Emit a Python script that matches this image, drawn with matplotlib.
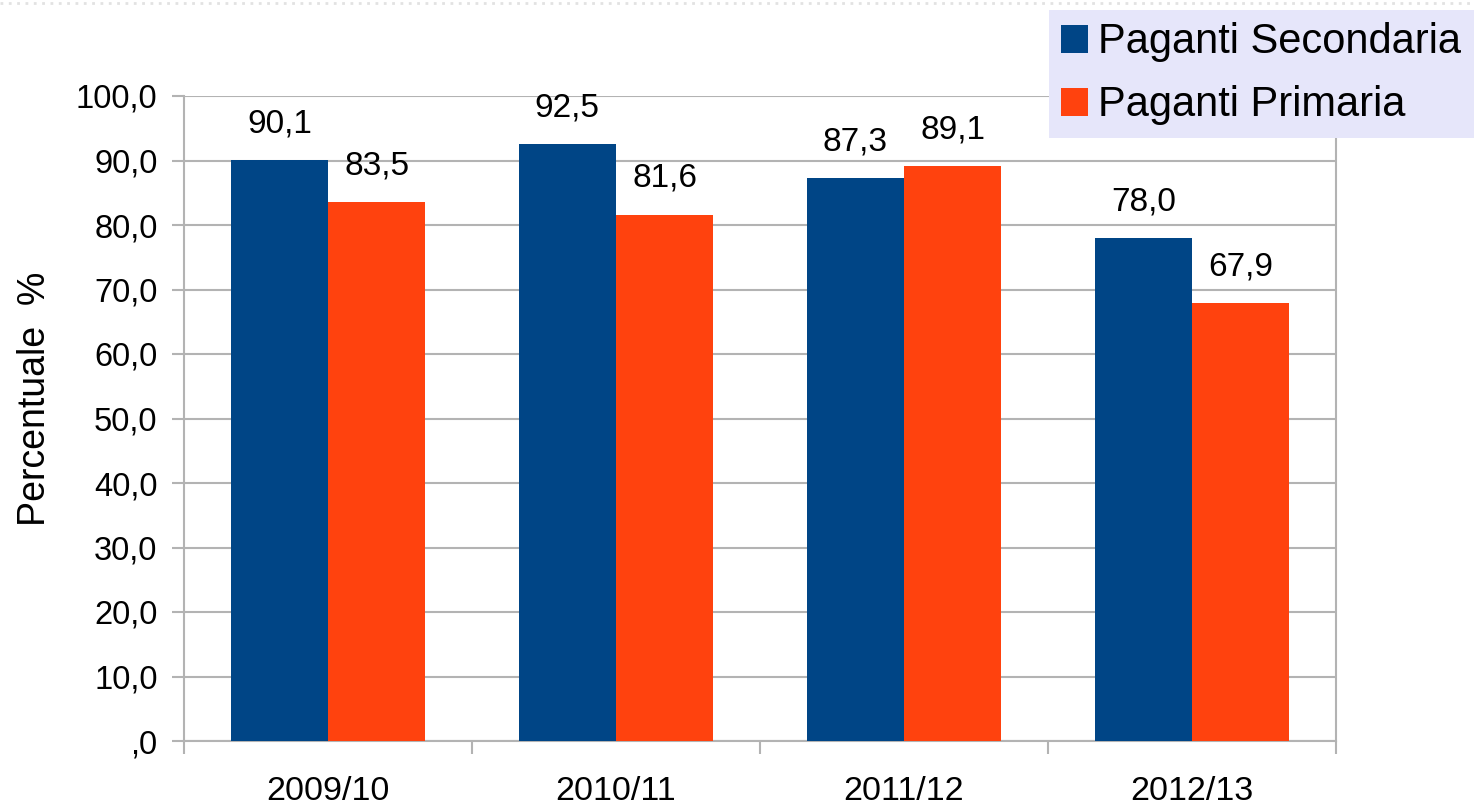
import matplotlib.pyplot as plt
from matplotlib.lines import Line2D
import numpy as np

plt.rcParams['font.family'] = ['Liberation Sans', 'DejaVu Sans']

# Data
years = ['2009/10', '2010/11', '2011/12', '2012/13']
secondaria = [90.1, 92.5, 87.3, 78.0]
primaria = [83.5, 81.6, 89.1, 67.9]
yticks = [0, 10, 20, 30, 40, 50, 60, 70, 80, 90, 100]
ytick_labels = [',0', '10,0', '20,0', '30,0', '40,0', '50,0', '60,0',
                '70,0', '80,0', '90,0', '100,0']

BLUE = '#004586'
ORANGE = '#ff420e'
GRID = '#b3b3b3'
BAR_W = 0.338

fig = plt.figure(figsize=(14.74, 8.06), dpi=100)
fig.patch.set_facecolor('white')
ax = fig.add_axes([184 / 1474, 65 / 806, 1152 / 1474, 645 / 806])

x = np.arange(len(years))
b1 = ax.bar(x - BAR_W / 2, secondaria, BAR_W, color=BLUE, label='Paganti Secondaria', zorder=3)
b2 = ax.bar(x + BAR_W / 2, primaria, BAR_W, color=ORANGE, label='Paganti Primaria', zorder=3)

def fmt(v):
    return f'{v:.1f}'.replace('.', ',')

for bars, vals in ((b1, secondaria), (b2, primaria)):
    for rect, v in zip(bars, vals):
        ax.annotate(fmt(v), (rect.get_x() + rect.get_width() / 2, rect.get_height()),
                    xytext=(0, 15), textcoords='offset points', ha='center', va='bottom',
                    fontsize=24, color='black')

ax.set_xlim(-0.5, len(years) - 0.5)
ax.set_ylim(0, 100)
ax.set_yticks(yticks)
ax.set_yticklabels(ytick_labels)
ax.yaxis.grid(True, color=GRID, linewidth=1.5, zorder=0)

# x ticks between categories, labels centered on categories
ax.set_xticks(np.arange(-0.5, len(years), 1.0))
ax.set_xticklabels([])
ax.set_xticks(x, minor=True)
ax.set_xticklabels(years, minor=True)
ax.tick_params(axis='x', which='major', length=9, width=1.5, color=GRID, direction='out')
ax.tick_params(axis='x', which='minor', length=0, pad=25, labelsize=24.5)
ax.tick_params(axis='y', length=9, width=1.5, color=GRID, labelsize=23.5, pad=10)

for side in ('left', 'bottom', 'right'):
    ax.spines[side].set_color(GRID)
    ax.spines[side].set_linewidth(1.5)
ax.spines['top'].set_visible(False)

ax.set_ylabel('Percentuale  %', fontsize=27)
ax.yaxis.set_label_coords(-0.114, 0.53)

leg = fig.legend(handles=[b1, b2], loc='upper right', bbox_to_anchor=(1.0, 1 - 10 / 806),
                 fontsize=30, frameon=True, fancybox=False, handlelength=0.65,
                 handleheight=0.65, handletextpad=0.25, borderpad=0.3,
                 labelspacing=0.55, borderaxespad=0)
leg.get_frame().set_facecolor('#e6e6fa')
leg.get_frame().set_edgecolor('none')
leg.get_frame().set_alpha(1)

# faint dotted border along the top edge
fig.add_artist(Line2D([0, 1], [1 - 3 / 806, 1 - 3 / 806], transform=fig.transFigure,
                      color='#e2e2e2', linewidth=2, linestyle=(0, (1, 2))))

fig.savefig('out.png', dpi=100, facecolor='white')
